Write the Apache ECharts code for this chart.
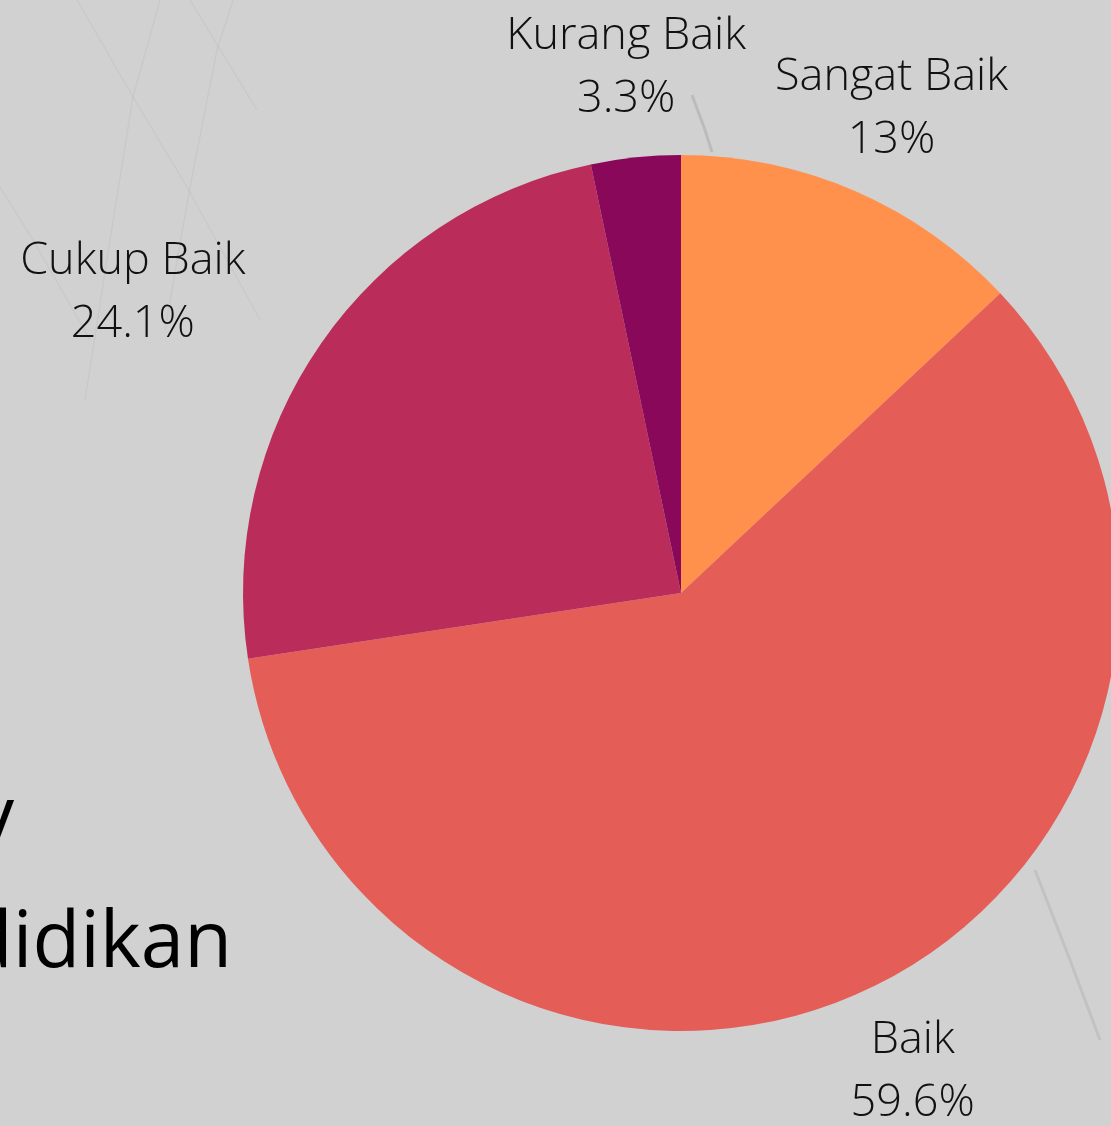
<!DOCTYPE html>
<html>
<head>
<meta charset="utf-8">
<script src="https://cdn.jsdelivr.net/npm/echarts@6/dist/echarts.min.js"></script>
<style>
  html, body { margin: 0; padding: 0; background: #d0d0d0; }
  #chart { width: 1111px; height: 1126px; }
</style>
</head>
<body>
<div id="chart"></div>
<script>
// data
const categories = ['Sangat Baik', 'Baik', 'Cukup Baik', 'Kurang Baik']
const percents = [13, 59.6, 24.1, 3.3]
const colors = ['#FF914D', '#E45D57', '#BA2D5A', '#8A085A']

const cx = 681
const cy = 593
const radius = 438
const labelRadius = 530

const total = percents.reduce((a, b) => a + b, 0)

// put each label at a fixed distance from the slice's middle angle
const placeLabel = (params) => {
  const i = params.dataIndex
  const before = percents.slice(0, i).reduce((a, b) => a + b, 0)
  const mid = (before + percents[i] / 2) / total * Math.PI * 2
  const dx = Math.sin(mid)
  const dy = -Math.cos(mid)
  let x = cx + dx * labelRadius
  const y = cy + dy * labelRadius + 2
  // side labels are anchored by their inner edge
  if (Math.abs(dx) > 0.7) x += Math.sign(dx) * params.labelRect.width / 2
  return { x: x, y: y, align: 'center', verticalAlign: 'middle' }
}

const myChart = echarts.init(document.getElementById('chart'))

const faint = 'rgba(0,0,0,0.035)'
const line = (points, stroke, width) => ({
  type: 'polyline', z: 0, silent: true,
  shape: { points: points },
  style: { stroke: stroke || faint, lineWidth: width || 1.5, fill: null }
})

const option = {
  backgroundColor: '#d1d1d1',
  animation: false,
  graphic: [
    line([[77, 0], [133, 97], [187, 187], [260, 320]]),
    line([[160, 0], [133, 97], [110, 240], [85, 400]]),
    line([[233, 0], [217, 50], [190, 187], [165, 330]]),
    line([[190, 0], [257, 110]]),
    line([[0, 187], [33, 240], [90, 340]]),
    line([[692, 95], [705, 130], [712, 152]], 'rgba(0,0,0,0.1)', 3),
    line([[1035, 870], [1070, 960], [1100, 1040]], 'rgba(0,0,0,0.07)', 3),
    {
      type: 'text', z: 1, silent: true, x: 14, y: 859,
      style: { text: 'y', fill: '#000', font: '78px "Open Sans"', align: 'right', verticalAlign: 'bottom' }
    },
    {
      type: 'text', z: 1, silent: true, x: 232, y: 984,
      style: { text: 'Pendidikan', fill: '#000', font: '78px "Open Sans"', align: 'right', verticalAlign: 'bottom' }
    }
  ],
  series: [{
    type: 'pie',
    center: [cx, cy],
    radius: radius,
    startAngle: 90,
    clockwise: true,
    avoidLabelOverlap: false,
    silent: true,
    itemStyle: { borderWidth: 0 },
    label: {
      show: true,
      position: 'outside',
      formatter: '{b}\n{c}%',
      color: '#111',
      fontFamily: 'Open Sans',
      fontWeight: 300,
      fontSize: 45,
      lineHeight: 63
    },
    labelLine: { show: false },
    labelLayout: placeLabel,
    data: categories.map((name, i) => ({
      name: name,
      value: percents[i],
      itemStyle: { color: colors[i] }
    }))
  }]
}

myChart.setOption(option)
</script>
</body>
</html>
